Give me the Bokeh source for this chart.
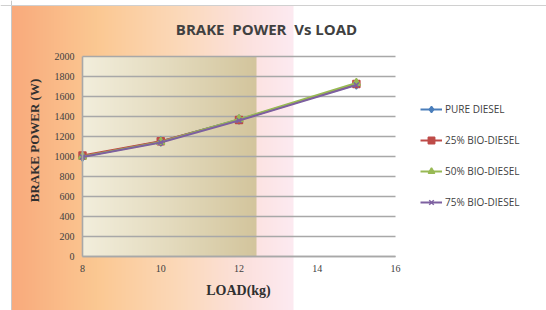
import numpy as np
from bokeh.plotting import figure
from bokeh.models import (LinearAxis, Range1d, Legend, LegendItem, Label, Span,
                          FixedTicker)
from bokeh.embed import file_html
from bokeh.resources import INLINE

# ---- data ----
load = [8, 10, 12, 15]
pure_diesel = [1000, 1150, 1370, 1720]
bio_25 = [1010, 1152, 1365, 1725]
bio_50 = [1000, 1145, 1372, 1735]
bio_75 = [995, 1140, 1360, 1715]
series_names = ["PURE DIESEL", "25% BIO-DIESEL", "50% BIO-DIESEL", "75% BIO-DIESEL"]
x_ticks = [8, 10, 12, 14, 16]
y_ticks = [0, 200, 400, 600, 800, 1000, 1200, 1400, 1600, 1800, 2000]
title_text = "BRAKE\u00a0\u00a0POWER\u00a0\u00a0Vs LOAD"
x_label = "LOAD(kg)"
y_label = "BRAKE POWER (W)"

# ---- layout (screen pixel mapping) ----
W, H = 546, 310
PX_PER_X = 39.125      # pixels per kg
Y_PER_PX = 10.0        # watts per pixel
X8_PX = 82             # px of x=8
Y0_PX = 256            # px (from top) of y=0

xr = Range1d(8 - X8_PX / PX_PER_X, 8 + (W - X8_PX) / PX_PER_X)
yr = Range1d(-(H - Y0_PX) * Y_PER_PX, Y0_PX * Y_PER_PX)


def sx(px):  # screen px -> data x
    return xr.start + px / PX_PER_X


def sy(py):  # screen px -> data y
    return yr.end - py * Y_PER_PX


p = figure(width=W, height=H, x_range=xr, y_range=yr, output_backend="svg",
           toolbar_location=None, x_axis_type=None, y_axis_type=None,
           min_border=0, outline_line_color=None,
           background_fill_color="white", border_fill_color="white")
p.xgrid.visible = False
p.ygrid.visible = False


def gradient(stops, n=200):
    pos = np.array([s[0] for s in stops])
    cols = np.array([s[1] for s in stops], dtype=float)
    t = np.linspace(0, 1, n)
    img = np.zeros((1, n), dtype=np.uint32)
    view = img.view(dtype=np.uint8).reshape((1, n, 4))
    for c in range(3):
        view[0, :, c] = np.interp(t, pos, cols[:, c]).astype(np.uint8)
    view[0, :, 3] = 255
    return img


# outer chart-area gradient
outer = gradient([(0.0, (249, 170, 124)), (0.3, (251, 200, 146)),
                  (0.6, (251, 217, 186)), (0.85, (252, 226, 224)),
                  (1.0, (253, 234, 241))])
ox0, ox1 = sx(11), sx(293)
oy_top = sy(5)
p.image_rgba(image=[outer], x=ox0, y=yr.start, dw=ox1 - ox0, dh=oy_top - yr.start)

# inner plot-area gradient
inner = gradient([(0.0, (242, 238, 220)), (0.5, (228, 219, 190)),
                  (1.0, (211, 197, 157))])
ix1 = sx(256)
p.image_rgba(image=[inner], x=x_ticks[0], y=y_ticks[0], dw=ix1 - x_ticks[0],
             dh=y_ticks[-1] - y_ticks[0])

# chart border (left and top)
p.add_layout(Span(location=ox0, dimension="height", line_color="#C8C8C8", line_width=1))
p.add_layout(Span(location=oy_top, dimension="width", line_color="#D0D0D0", line_width=1))

# horizontal gridlines
p.segment(x0=[x_ticks[0]] * len(y_ticks), x1=[x_ticks[-1]] * len(y_ticks),
          y0=y_ticks, y1=y_ticks, line_color="#A8A8A8", line_width=1.6)

# axes
yaxis = LinearAxis(fixed_location=x_ticks[0], ticker=FixedTicker(ticks=y_ticks),
                   bounds=(y_ticks[0], y_ticks[-1]))
xaxis = LinearAxis(fixed_location=y_ticks[0], ticker=FixedTicker(ticks=x_ticks),
                   bounds=(x_ticks[0], x_ticks[-1]))
for ax in (xaxis, yaxis):
    ax.axis_line_color = "#A8A8A8"
    ax.axis_line_width = 1.6
    ax.major_tick_line_color = None
    ax.minor_tick_line_color = None
    ax.major_tick_out = 0
    ax.major_tick_in = 0
    ax.major_label_text_font = "Liberation Serif"
    ax.major_label_text_font_size = "10px"
    ax.major_label_text_color = "#404040"
yaxis.major_label_standoff = 8
xaxis.major_label_standoff = 8
p.add_layout(yaxis, "left")
p.add_layout(xaxis, "below")

# series
colors = ["#4A7EBB", "#BE4B48", "#98B954", "#7D60A0"]
markers = ["diamond", "square", "triangle", "x"]
sizes = [9, 7, 8, 7]
values = [pure_diesel, bio_25, bio_50, bio_75]
items = []
for name, vals, col, mk, sz in zip(series_names, values, colors, markers, sizes):
    ln = p.line(load, vals, line_color=col, line_width=2)
    sc = p.scatter(load, vals, marker=mk, size=sz, fill_color=col,
                   line_color=col, line_width=1.5)
    items.append(LegendItem(label=name, renderers=[ln, sc]))

legend = Legend(items=items, location=(420, 100), orientation="vertical",
                background_fill_alpha=0, border_line_color=None, padding=0,
                margin=0, spacing=15, glyph_width=22, glyph_height=16,
                label_height=16, label_standoff=3,
                label_text_font="Open Sans", label_text_font_size="10px",
                label_text_color="#404040")
p.add_layout(legend)

# title and axis labels
p.add_layout(Label(x=sx(266), y=sy(28), text=title_text, text_align="center",
                   text_baseline="middle", text_font="Open Sans",
                   text_font_style="bold", text_font_size="15px",
                   text_color="#404040"))
p.add_layout(Label(x=sx(34), y=sy(140), text=y_label, angle=np.pi / 2,
                   text_align="center", text_baseline="middle",
                   text_font="Liberation Serif", text_font_style="bold",
                   text_font_size="13px", text_color="#303030"))
p.add_layout(Label(x=sx(238), y=sy(290), text=x_label, text_align="center",
                   text_baseline="middle", text_font="Liberation Serif",
                   text_font_style="bold", text_font_size="14px",
                   text_color="#303030"))

open("out.html", "w").write(file_html(p, INLINE))
